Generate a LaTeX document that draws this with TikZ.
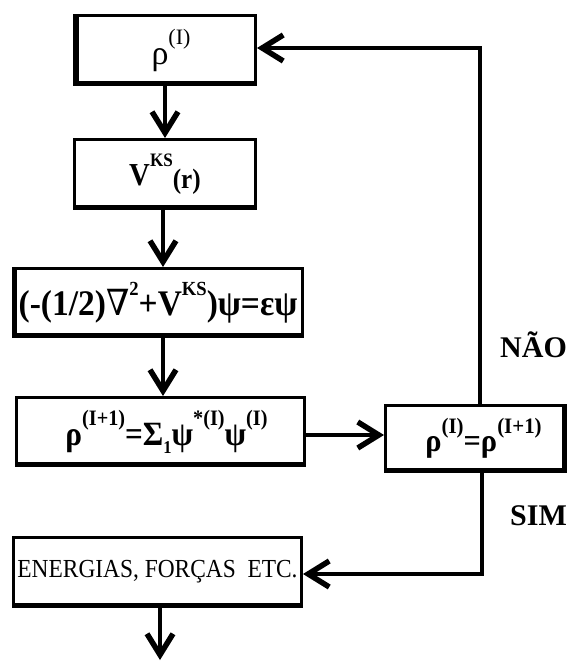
\documentclass[tikz,border=0pt]{standalone}
\usepackage{fontspec}
\setmainfont{Liberation Serif}
\newfontfamily\dvs{DejaVu Serif}
\usetikzlibrary{arrows.meta}
\newcommand\fsz[1]{\fontsize{#1}{#1}\selectfont}
\newcommand\hi[3]{\raisebox{#1}{\fsz{#2}#3}}
\begin{document}
\begin{tikzpicture}[x=1pt,y=-1pt,
  blk/.style={draw, line width=3pt, inner sep=0pt, font=\bfseries},
  con/.style={line width=3.5pt, -{Straight Barb[length=21pt,width=26pt,line width=5.5pt]}},
  thk/.style={line width=4.5pt},
  lbl/.style={font=\bfseries\fsz{30}, inner sep=0pt, anchor=base west}]
\useasboundingbox (0,0) rectangle (569,661);
\fill[white] (0,0) rectangle (569,661);

\node[blk, minimum width=181pt, minimum height=69pt] (b1) at (165,50)
  {\hspace{12pt}{\mdseries\fsz{34}ρ}\hi{20pt}{22}{\mdseries (I)}};
\node[blk, minimum width=181pt, minimum height=69pt] (b2) at (165,174)
  {\scalebox{0.9}[1]{\fsz{32}V\hi{19pt}{19}{KS}\raisebox{-3pt}{\fsz{28}(r)}}};
\node[blk, minimum width=289pt, minimum height=68pt] (b3) at (158,302.5)
  {\scalebox{0.93}[1]{\fsz{36}(-(1/2){\dvs\mdseries ∇}\hi{20pt}{20}{2}+V\hi{20pt}{20}{KS})ψ=εψ}};
\node[blk, minimum width=288pt, minimum height=68pt] (b4) at (160.5,431.5)
  {\hspace{12pt}\scalebox{0.92}[1]{\fsz{34}ρ\hi{20pt}{22}{(I+1)}=Σ\hi{-8pt}{18}{1}ψ\hi{20pt}{22}{*(I)}ψ\hi{20pt}{22}{(I)}}};
\node[blk, minimum width=180pt, minimum height=66pt] (b5) at (475.5,438.5)
  {\hspace{16pt}\scalebox{0.95}[1]{\fsz{32}ρ\hi{18pt}{22}{(I)}=ρ\hi{18pt}{22}{(I+1)}}};
\node[blk, minimum width=288pt, minimum height=69pt] (b6) at (157.5,572)
  {\scalebox{0.9}[1]{\mdseries\fsz{26}ENERGIAS, FORÇAS\ \ ETC.}};

% heavier lower and left edges
\foreach \b in {b1,b2,b3,b4,b5,b6}
  \fill (\b.south west) rectangle ([yshift=5pt]\b.south east);
\fill (b1.south west) rectangle ([xshift=6pt]b1.north west);
\fill (b3.south west) rectangle ([xshift=4.5pt]b3.north west);
\fill ([xshift=-5pt]b5.south east) rectangle (b5.north east);

\coordinate (cx) at (163,0);
\coordinate (ry) at (0,435);
\coordinate (fb) at (480,48);
\coordinate (sb) at (482,574);
\coordinate (endp) at (160,660);

\draw[con] (b1) -- (b2);
\draw[con] (cx |- b2.south) -- (cx |- b3.north);
\draw[con] (cx |- b3.south) -- (cx |- b4.north);
\draw[con, thk] (b4.east |- ry) -- (b5.west |- ry);
\draw[con, thk] (fb |- b5.north) -- (fb) -- (b1.east |- fb);
\draw[con, thk] (sb |- b5.south) -- (sb) -- (b6.east |- sb);
\draw[con] (endp |- b6.south) -- (endp);

\node[lbl] (nao) at (500,357) {NÃO};
\node[lbl] (sim) at (510,525) {SIM};
\end{tikzpicture}
\end{document}
